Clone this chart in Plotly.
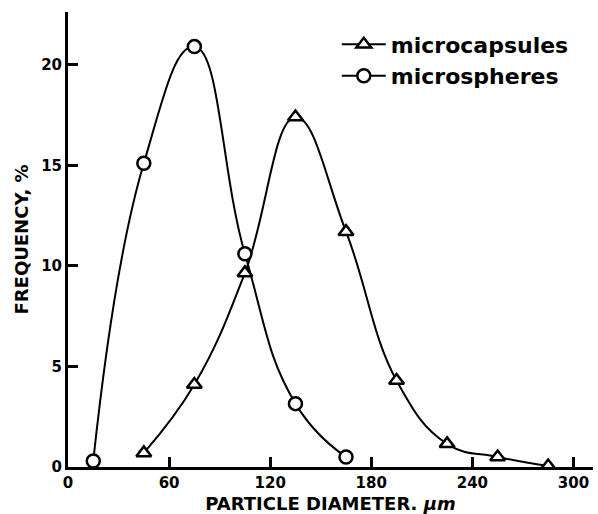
import plotly.graph_objects as go

# Data
sphere_x = [15, 45, 75, 105, 135, 165]
sphere_y = [0.3, 15.1, 20.9, 10.6, 3.15, 0.5]

capsule_x = [45, 75, 105, 135, 165, 195, 225, 255, 285]
capsule_y = [0.7, 4.1, 9.65, 17.4, 11.7, 4.3, 1.15, 0.5, 0.05]

x_ticks = [0, 60, 120, 180, 240, 300]
y_ticks = [0, 5, 10, 15, 20]

FONT = "DejaVu Sans"

fig = go.Figure()
fig.add_trace(go.Scatter(
    x=capsule_x, y=capsule_y, name="microcapsules",
    mode="lines+markers",
    line=dict(color="black", width=2, shape="spline", smoothing=1.2),
    marker=dict(symbol="triangle-up", size=13, color="white",
                line=dict(color="black", width=2.5)),
))
fig.add_trace(go.Scatter(
    x=sphere_x, y=sphere_y, name="microspheres",
    mode="lines+markers",
    line=dict(color="black", width=2, shape="spline", smoothing=1.3),
    marker=dict(symbol="circle", size=13, color="white",
                line=dict(color="black", width=2.5)),
))

fig.update_layout(
    width=598, height=514,
    margin=dict(l=68, r=5, t=12, b=47),
    paper_bgcolor="white", plot_bgcolor="white",
    font=dict(family=FONT, color="black", size=15, weight="bold"),
    showlegend=True,
    legend=dict(x=0.512, y=0.975, xanchor="left", yanchor="top",
                bgcolor="rgba(0,0,0,0)",
                font=dict(family=FONT, size=22, weight="bold", color="black"),
                itemwidth=44, tracegroupgap=0),
)
fig.update_xaxes(
    range=[0, 311.6], tickvals=x_ticks,
    ticktext=[f"<b>{v}</b>" for v in x_ticks],
    showline=True, linecolor="black", linewidth=3,
    ticks="inside", ticklen=10, tickwidth=2.5, tickcolor="black",
    showgrid=False, zeroline=False, ticklabelstandoff=0, automargin=False,
    tickfont=dict(family=FONT, size=15, color="black"),
    title=dict(text="<b>PARTICLE DIAMETER. <i>μm</i></b>", standoff=10,
               font=dict(family=FONT, size=18, color="black")),
)
fig.update_yaxes(
    range=[0, 22.62], tickvals=y_ticks,
    ticktext=[f"<b>{v}</b>" for v in y_ticks],
    showline=True, linecolor="black", linewidth=3,
    ticks="inside", ticklen=10, tickwidth=2.5, tickcolor="black",
    showgrid=False, zeroline=False, automargin=False,
    tickfont=dict(family=FONT, size=15, color="black"),
    title=dict(text="<b>FREQUENCY, %</b>", standoff=8,
               font=dict(family=FONT, size=18, color="black")),
)

fig.write_html("out.html")
